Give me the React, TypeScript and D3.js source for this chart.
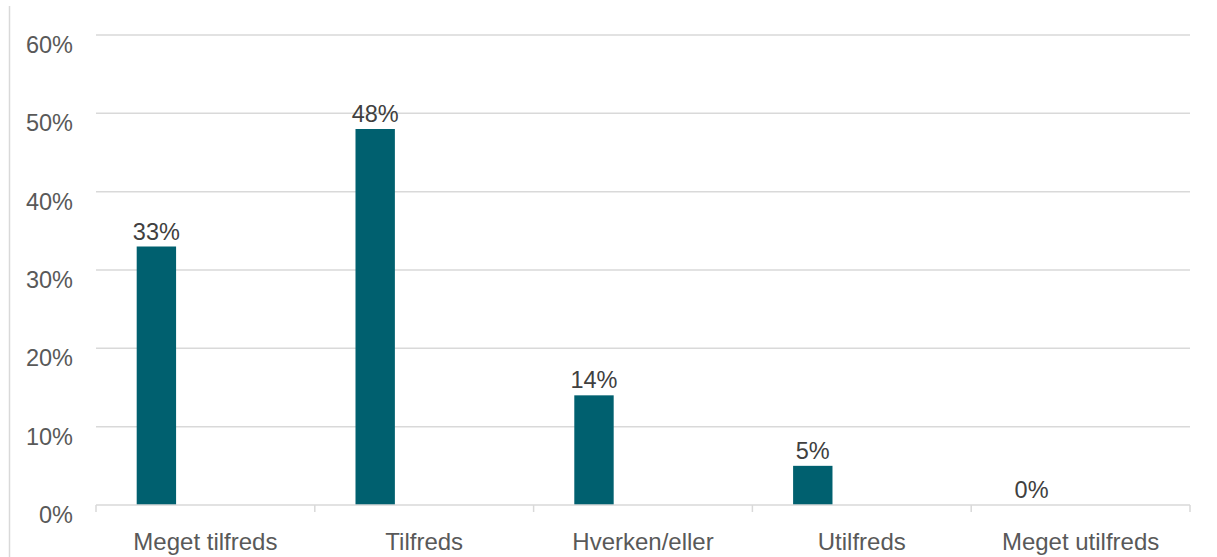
import * as d3 from 'd3';

const categories = ['Meget tilfreds', 'Tilfreds', 'Hverken/eller', 'Utilfreds', 'Meget utilfreds'];
const values = [33, 48, 14, 5, 0];
const yTicks = [0, 10, 20, 30, 40, 50, 60];

const WIDTH = 1217;
const HEIGHT = 557;
const PLOT = { left: 96, right: 1190, top: 35, bottom: 505 };
const BAR_COLOR = '#00606f';
const GRID = '#d9d9d9';
const FONT = '"Liberation Sans", Arial, sans-serif';

export default function App() {
  const x = d3
    .scaleBand<string>()
    .domain(categories)
    .range([PLOT.left, PLOT.right])
    .padding(0);
  const y = d3.scaleLinear().domain([0, 60]).range([PLOT.bottom, PLOT.top]);

  const bw = x.bandwidth();
  const barOffset = bw * 0.186;
  const barWidth = bw * 0.18;

  const boundaries = [...categories.map((c) => x(c) ?? 0), PLOT.right];

  return (
    <svg
      width={WIDTH}
      height={HEIGHT}
      style={{ position: 'absolute', left: 0, top: 0, background: '#fff' }}
      fontFamily={FONT}
    >
      {/* left frame line */}
      <line x1={9.5} x2={9.5} y1={6} y2={HEIGHT} stroke={GRID} strokeWidth={1.5} />

      {/* gridlines and y labels */}
      {yTicks.map((t) => (
        <g key={t}>
          {t > 0 && (
            <line x1={PLOT.left} x2={PLOT.right} y1={y(t)} y2={y(t)} stroke={GRID} strokeWidth={1.5} />
          )}
          <text x={73} y={y(t) + 18} textAnchor="end" fontSize={23.5} fill="#595959">
            {`${t}%`}
          </text>
        </g>
      ))}

      {/* bars */}
      {categories.map((c, i) => (
        <rect
          key={c}
          x={(x(c) ?? 0) + barOffset}
          y={y(values[i])}
          width={barWidth}
          height={PLOT.bottom - y(values[i])}
          fill={BAR_COLOR}
        />
      ))}

      {/* x axis */}
      <line x1={PLOT.left} x2={PLOT.right} y1={PLOT.bottom} y2={PLOT.bottom} stroke={GRID} strokeWidth={1.5} />
      {boundaries.map((b, i) => (
        <line key={i} x1={b} x2={b} y1={PLOT.bottom} y2={PLOT.bottom + 7} stroke={GRID} strokeWidth={1.5} />
      ))}

      {/* data labels */}
      {categories.map((c, i) => (
        <text
          key={c}
          x={(x(c) ?? 0) + barOffset + barWidth / 2}
          y={y(values[i]) - 7}
          textAnchor="middle"
          fontSize={23.5}
          fill="#404040"
        >
          {`${values[i]}%`}
        </text>
      ))}

      {/* category labels */}
      {categories.map((c) => (
        <text
          key={c}
          x={(x(c) ?? 0) + bw / 2}
          y={550}
          textAnchor="middle"
          fontSize={24}
          fill="#595959"
        >
          {c}
        </text>
      ))}
    </svg>
  );
}
